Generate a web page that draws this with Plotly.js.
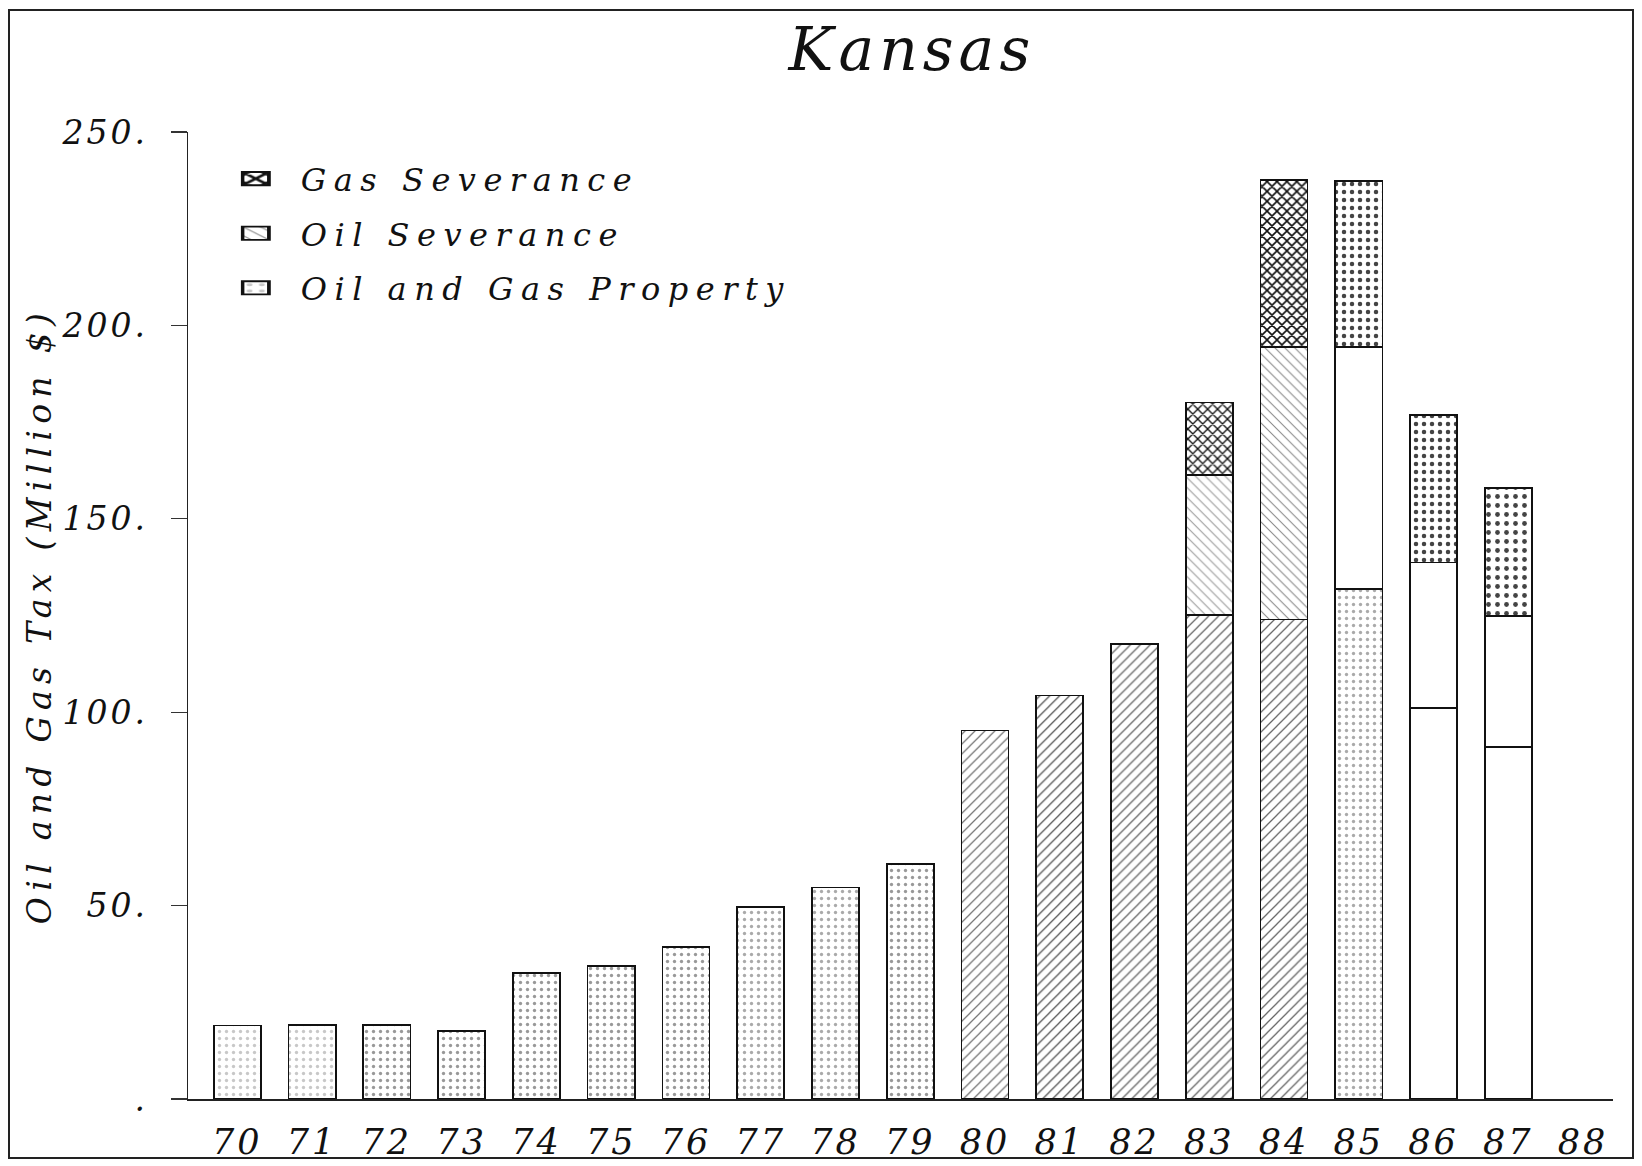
<!DOCTYPE html>
<html>
<head>
<meta charset="utf-8">
<script src="https://cdn.plot.ly/plotly-3.0.1.min.js"></script>
<style>
  html, body { margin: 0; padding: 0; background: #fff; }
  #chart { width: 1642px; height: 1166px; }
  #frame { position: absolute; left: 8px; top: 9px; width: 1626px; height: 1150px;
           border: 2px solid #222; box-sizing: border-box; pointer-events: none; }
  text.gtitle { letter-spacing: 5px; }
  text.legendtext { letter-spacing: 7.5px; }
  text.ytitle { letter-spacing: 6.3px; }
  .xtick text, .ytick text { letter-spacing: 3px; }
  .legendpoints path { transform: translate(15px, 0px) scale(2.2, 1.1); }
</style>
</head>
<body>
<div id="chart"></div>
<div id="frame"></div>
<script>
// ---- data (million $) ----
const allYears = [70, 71, 72, 73, 74, 75, 76, 77, 78, 79, 80, 81, 82, 83, 84, 85, 86, 87, 88];
const tickLabels = ['70','71','72','73','74','75','76','77','78','79','80','81','82','83','84','85','86','87','88'];

const propertyYears = [70, 71, 72, 73, 74, 75, 76, 77, 78, 79, 80, 81, 82, 83, 84, 85, 86, 87];
const propertyTax   = [19.0, 19.2, 19.2, 17.6, 32.5, 34.4, 39.3, 49.6, 54.7, 60.7, 95.3, 104.3, 117.6, 125.1, 124.0, 131.9, 101.0, 91.0];

const severanceYears = [83, 84, 85, 86, 87];
const oilSeverance   = [36.3, 70.5, 62.6, 37.7, 33.9];
const gasSeverance   = [18.7, 43.1, 42.8, 38.2, 33.0];

const yTickVals = [0, 50, 100, 150, 200, 250];
const yTickText = ['.', '50.', '100.', '150.', '200.', '250.'];

// ---- styles ----
const serif = 'DejaVu Serif, Liberation Serif, serif';
const outline = { color: '#111', width: 1.7 };

const propPattern = {
  shape:   ['.', '.', '.', '.', '.', '.', '.', '.', '.', '.', '/', '/', '/', '/', '/', '.', '', ''],
  fgcolor: ['#c8c8c8', '#c8c8c8', '#999', '#999', '#999', '#999', '#999', '#aaa', '#aaa', '#999',
            '#777', '#555', '#666', '#666', '#666', '#aaa', '#ddd', '#ddd'],
  bgcolor: 'white',
  size: 7,
  solidity: 0.18
};
const oilPattern = {
  shape:   ['\\', '\\', '', '', ''],
  fgcolor: ['#999', '#888', '#ccc', '#ccc', '#ccc'],
  bgcolor: 'white',
  size: 7,
  solidity: 0.15
};
const gasPattern = {
  shape:   ['x', 'x', '.', '.', '.'],
  fgcolor: ['#111', '#111', '#444', '#444', '#444'],
  bgcolor: 'white',
  size: [7, 7, 8, 8, 9],
  solidity: [0.35, 0.4, 0.25, 0.25, 0.22]
};

const traces = [
  { type: 'bar', name: 'Oil and Gas Property', x: propertyYears, y: propertyTax,
    legendgroup: 'p', legendrank: 3,
    marker: { color: 'white', line: outline, pattern: propPattern } },
  { type: 'bar', name: 'Oil Severance', x: severanceYears, y: oilSeverance,
    legendgroup: 'o', legendrank: 2,
    marker: { color: 'white', line: outline, pattern: oilPattern } },
  { type: 'bar', name: 'Gas Severance', x: severanceYears, y: gasSeverance,
    legendgroup: 'g', legendrank: 1,
    marker: { color: 'white', line: outline, pattern: gasPattern } }
];

const layout = {
  width: 1642, height: 1166,
  paper_bgcolor: 'white', plot_bgcolor: 'white',
  margin: { l: 188, r: 29, t: 132, b: 67 },
  barmode: 'stack',
  bargap: 0.37,
  showlegend: true,
  hovermode: false,
  title: {
    text: 'Kansas',
    font: { family: serif, size: 60, style: 'italic', color: '#111' },
    x: 0.508, xref: 'paper', xanchor: 'center',
    y: 0.958, yref: 'container', yanchor: 'middle'
  },
  legend: {
    x: 0.037, xanchor: 'left', y: 0.98, yanchor: 'top',
    traceorder: 'grouped',
    tracegroupgap: 10,
    bgcolor: 'rgba(0,0,0,0)',
    font: { family: serif, size: 32, style: 'italic', color: '#111' },
    itemwidth: 50
  },
  xaxis: {
    range: [69.34, 88.4],
    tickmode: 'array', tickvals: allYears, ticktext: tickLabels,
    showgrid: false, zeroline: false,
    showline: true, linecolor: '#222', linewidth: 1.5,
    ticks: '', ticklabelstandoff: 11,
    tickfont: { family: serif, size: 35, style: 'italic', color: '#111' }
  },
  yaxis: {
    range: [0, 250],
    tickmode: 'array', tickvals: yTickVals, ticktext: yTickText,
    showgrid: false, zeroline: false,
    showline: true, linecolor: '#222', linewidth: 1.5,
    ticks: 'outside', ticklen: 16, tickwidth: 1.2, tickcolor: '#333',
    ticklabelstandoff: 16,
    tickfont: { family: serif, size: 33, style: 'italic', color: '#111' },
    title: {
      text: 'Oil and Gas Tax (Million $)',
      font: { family: serif, size: 33, style: 'italic', color: '#111' },
      standoff: 0
    }
  }
};

Plotly.newPlot('chart', traces, layout, { staticPlot: true, displayModeBar: false });
</script>
</body>
</html>
